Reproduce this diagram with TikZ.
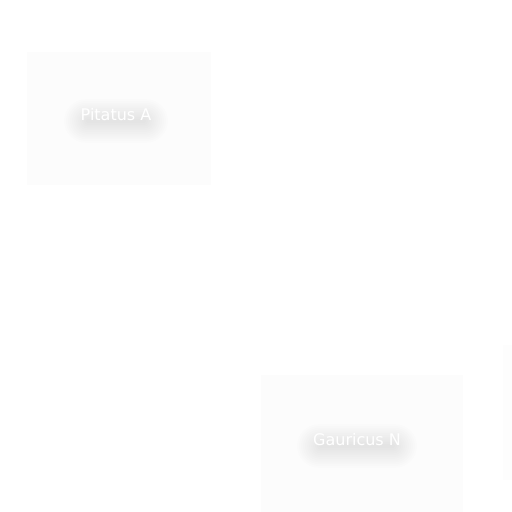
\documentclass[tikz,border=0pt]{standalone}
\usepackage{fontspec}
\setmainfont{DejaVu Sans}
\definecolor{boxfill}{HTML}{FCFCFC}
\definecolor{boxfillb}{HTML}{FDFDFD}
\begin{document}
\begin{tikzpicture}[x=1pt,y=-1pt,
  panel/.style={fill=boxfill,draw=none},
  lbl/.style={font=\fontsize{16}{19}\selectfont,text=white,inner sep=0pt},
  blob/.style={fill=black,fill opacity=0.009,draw=none}]
\useasboundingbox[fill=white] (0,0) rectangle (512,512);
\fill[panel] (27,52) rectangle (211,185);
\fill[panel] (261,375) rectangle (463,512);
\fill[boxfillb] (503,345) rectangle (512,480);
% soft shadows
\foreach \k in {0,1,...,11}{
  \pgfmathsetmacro{\w}{30+2*\k}
  \pgfmathsetmacro{\h}{2+1.8*\k}
  \pgfmathsetmacro{\r}{2+1.8*\k}
  \fill[blob,rounded corners=\r pt] (116-\w,121-\h) rectangle (116+\w,121+\h);
  \pgfmathsetmacro{\wb}{38+2*\k}
  \fill[blob,rounded corners=\r pt] (357-\wb,446-\h) rectangle (357+\wb,446+\h);
}
\node[lbl] (pa) at (116,115) {Pitatus A};
\node[lbl] (gn) at (357,440) {Gauricus N};
\end{tikzpicture}
\end{document}
